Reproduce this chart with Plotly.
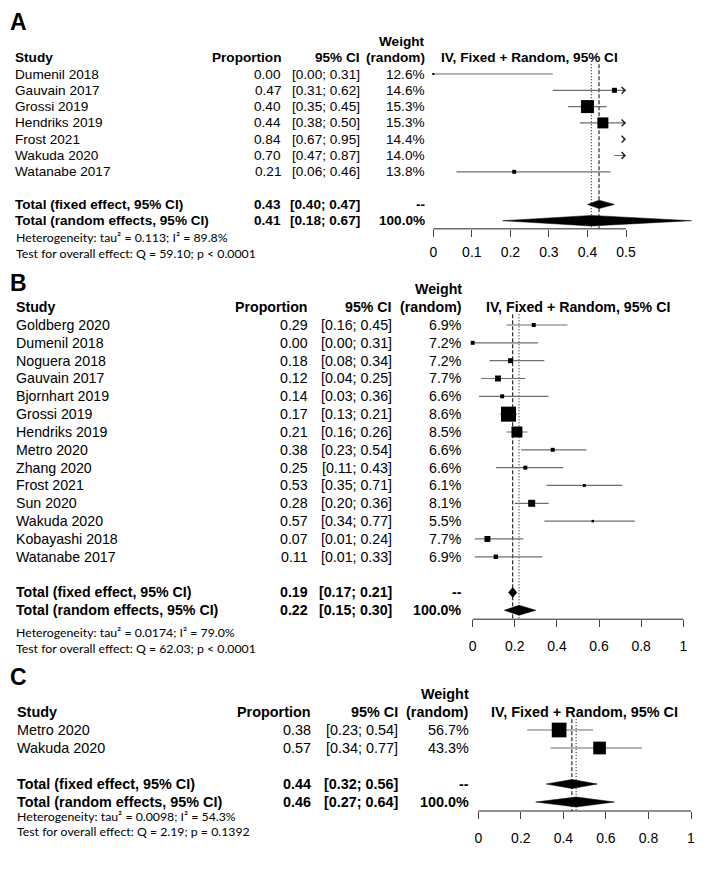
import plotly.graph_objects as go

W, H = 709, 869
FONT = "Liberation Sans, Arial, sans-serif"
NOTE_FONT = "Lato, sans-serif"

# ---------------- data: panel A ----------------
A_study = ["Dumenil 2018", "Gauvain 2017", "Grossi 2019", "Hendriks 2019",
           "Frost 2021", "Wakuda 2020", "Watanabe 2017"]
A_prop = [0.00, 0.47, 0.40, 0.44, 0.84, 0.70, 0.21]
A_lower = [0.00, 0.31, 0.35, 0.38, 0.67, 0.47, 0.06]
A_upper = [0.31, 0.62, 0.45, 0.50, 0.95, 0.87, 0.46]
A_w_random = [12.6, 14.6, 15.3, 15.3, 14.4, 14.0, 13.8]
A_w_fixed = [1.0, 6.4, 43.5, 31.1, 8.0, 6.0, 4.0]
A_fixed = [0.43, 0.40, 0.47]
A_random = [0.41, 0.18, 0.67]
A_total_weight = 100.0
A_notes = ["Heterogeneity: tau² = 0.113; I² = 89.8%",
           "Test for overall effect: Q = 59.10; p < 0.0001"]
A_ticks = [0, 0.1, 0.2, 0.3, 0.4, 0.5]
A_ticklabels = ["0", "0.1", "0.2", "0.3", "0.4", "0.5"]

# ---------------- data: panel B ----------------
B_study = ["Goldberg 2020", "Dumenil 2018", "Noguera 2018", "Gauvain 2017",
           "Bjornhart 2019", "Grossi 2019", "Hendriks 2019", "Metro 2020",
           "Zhang 2020", "Frost 2021", "Sun 2020", "Wakuda 2020",
           "Kobayashi 2018", "Watanabe 2017"]
B_prop = [0.29, 0.00, 0.18, 0.12, 0.14, 0.17, 0.21, 0.38, 0.25, 0.53, 0.28, 0.57, 0.07, 0.11]
B_lower = [0.16, 0.00, 0.08, 0.04, 0.03, 0.13, 0.16, 0.23, 0.11, 0.35, 0.20, 0.34, 0.01, 0.01]
B_upper = [0.45, 0.31, 0.34, 0.25, 0.36, 0.21, 0.26, 0.54, 0.43, 0.71, 0.36, 0.77, 0.24, 0.33]
B_w_random = [6.9, 7.2, 7.2, 7.7, 6.6, 8.6, 8.5, 6.6, 6.6, 6.1, 8.1, 5.5, 7.7, 6.9]
B_w_fixed = [2.6, 2.6, 4.1, 5.9, 2.6, 37.3, 19.9, 2.6, 2.6, 1.5, 8.1, 1.0, 5.9, 3.3]
B_fixed = [0.19, 0.17, 0.21]
B_random = [0.22, 0.15, 0.30]
B_total_weight = 100.0
B_notes = ["Heterogeneity: tau² = 0.0174; I² = 79.0%",
           "Test for overall effect: Q = 62.03; p < 0.0001"]
B_ticks = [0, 0.2, 0.4, 0.6, 0.8, 1]
B_ticklabels = ["0", "0.2", "0.4", "0.6", "0.8", "1"]

# ---------------- data: panel C ----------------
C_study = ["Metro 2020", "Wakuda 2020"]
C_prop = [0.38, 0.57]
C_lower = [0.23, 0.34]
C_upper = [0.54, 0.77]
C_w_random = [56.7, 43.3]
C_w_fixed = [57.3, 42.7]
C_fixed = [0.44, 0.32, 0.56]
C_random = [0.46, 0.27, 0.64]
C_total_weight = 100.0
C_notes = ["Heterogeneity: tau² = 0.0098; I² = 54.3%",
           "Test for overall effect: Q = 2.19; p = 0.1392"]
C_ticks = [0, 0.2, 0.4, 0.6, 0.8, 1]
C_ticklabels = ["0", "0.2", "0.4", "0.6", "0.8", "1"]

PANELS = [
    dict(letter="A", study=A_study, prop=A_prop, lo=A_lower, hi=A_upper,
         wr=A_w_random, wf=A_w_fixed, fixed=A_fixed, random=A_random,
         total=A_total_weight, notes=A_notes, ticks=A_ticks, ticklabels=A_ticklabels),
    dict(letter="B", study=B_study, prop=B_prop, lo=B_lower, hi=B_upper,
         wr=B_w_random, wf=B_w_fixed, fixed=B_fixed, random=B_random,
         total=B_total_weight, notes=B_notes, ticks=B_ticks, ticklabels=B_ticklabels),
    dict(letter="C", study=C_study, prop=C_prop, lo=C_lower, hi=C_upper,
         wr=C_w_random, wf=C_w_fixed, fixed=C_fixed, random=C_random,
         total=C_total_weight, notes=C_notes, ticks=C_ticks, ticklabels=C_ticklabels),
]

# ---------------- layout (pixel geometry) ----------------
GEOM = [
    dict(letter_y=22, row0=74, sp=16.3, x0=433.3, x1=626.0, name_x=13, prop_r=283,
         ci_r=362, w_r=427, note_x=14, note_y=[238, 254], box_max=13, fs=13.6,
         top=30, dfix=4.2, dran=5.3, standoff=3),
    dict(letter_y=283, row0=325, sp=17.83, x0=472.7, x1=683.3, name_x=14, prop_r=310,
         ci_r=394, w_r=464, note_x=14, note_y=[632, 648], box_max=15, fs=14.2,
         top=270, dfix=5, dran=5, standoff=7),
    dict(letter_y=677, row0=730, sp=18.0, x0=478.3, x1=691.0, name_x=15, prop_r=313,
         ci_r=400, w_r=471, note_x=15, note_y=[816, 831], box_max=14.7, fs=14.4,
         top=680, dfix=4.5, dran=5, standoff=7),
]

CI_COLOR = "#6e6e6e"
fig = go.Figure()
annotations = []
shapes = []
layout_axes = {}


def ann(text, x_px, y, yref, anchor, size, bold=False, font=FONT):
    annotations.append(dict(
        text=f"<b>{text}</b>" if bold else text, x=x_px / W, xref="paper",
        y=y, yref=yref, xanchor=anchor, yanchor="middle", showarrow=False,
        font=dict(family=font, size=size, color="black")))


for k, (p, g) in enumerate(zip(PANELS, GEOM), start=1):
    xa = "x" if k == 1 else f"x{k}"
    ya = "y" if k == 1 else f"y{k}"
    n = len(p["study"])
    sp, row0 = g["sp"], g["row0"]
    axis_row = n + 2.5
    bottom_px = row0 + axis_row * sp
    scale = (g["x1"] - g["x0"]) / (p["ticks"][-1] - p["ticks"][0])
    xr = [p["ticks"][0] - g["x0"] / scale, p["ticks"][0] + (W - g["x0"]) / scale]
    yr = [(bottom_px - row0) / sp, (g["top"] - row0) / sp]
    xlim = p["ticks"][-1]
    xmin = p["ticks"][0]

    layout_axes[f"xaxis{'' if k == 1 else k}"] = dict(
        domain=[0, 1], range=xr, anchor=ya, showgrid=False, zeroline=False,
        showline=False, ticks="outside", ticklen=7, tickwidth=1, tickcolor="#444",
        tickvals=p["ticks"], ticktext=p["ticklabels"], ticklabelstandoff=g["standoff"],
        tickfont=dict(family=FONT, size=14, color="black"))
    layout_axes[f"yaxis{'' if k == 1 else k}"] = dict(
        domain=[1 - bottom_px / H, 1 - g["top"] / H], range=yr, anchor=xa,
        visible=False, showgrid=False, zeroline=False)

    # axis line between first and last tick
    shapes.append(dict(type="line", xref=xa, yref=f"{ya} domain",
                       x0=p["ticks"][0], x1=p["ticks"][-1], y0=0, y1=0,
                       line=dict(color="#222", width=1)))

    rows = list(range(n))
    row_fixed, row_random = n + 1, n + 2

    # vertical reference lines (fixed dashed, random dotted)
    fig.add_trace(go.Scatter(x=[p["fixed"][0]] * 2, y=[-0.6, axis_row], mode="lines",
                             line=dict(color="black", width=1, dash="4px,2px"),
                             xaxis=xa, yaxis=ya, hoverinfo="skip"))
    fig.add_trace(go.Scatter(x=[p["random"][0]] * 2, y=[-0.6, axis_row], mode="lines",
                             line=dict(color="black", width=1, dash="1px,2px"),
                             xaxis=xa, yaxis=ya, hoverinfo="skip"))

    # CI lines (clipped to axis limits)
    lx, ly = [], []
    for r, lo, hi in zip(rows, p["lo"], p["hi"]):
        if lo < xlim:
            lx += [max(lo, xmin), min(hi, xlim), None]
            ly += [r, r, None]
        if hi >= xlim:
            annotations.append(dict(x=xlim, y=r, xref=xa, yref=ya, text="",
                                    showarrow=True, ax=-4, ay=0, arrowhead=4,
                                    arrowsize=1.3, arrowwidth=1, arrowcolor="#222"))
    fig.add_trace(go.Scatter(x=lx, y=ly, mode="lines",
                             line=dict(color=CI_COLOR, width=1.2),
                             xaxis=xa, yaxis=ya, hoverinfo="skip"))

    # squares (size from fixed-effect weights)
    wmax = max(p["wf"])
    bx, by, bs = [], [], []
    for r, est, w in zip(rows, p["prop"], p["wf"]):
        if xmin <= est <= xlim:
            bx.append(est)
            by.append(r)
            bs.append(max(g["box_max"] * (w / wmax) ** 0.5, 1.5))
    fig.add_trace(go.Scatter(x=bx, y=by, mode="markers", cliponaxis=False,
                             marker=dict(symbol="square", size=bs, color="black",
                                         opacity=1, line=dict(width=0)),
                             xaxis=xa, yaxis=ya, hoverinfo="skip"))

    # diamonds
    for (est, lo, hi), r, dh in ((p["fixed"], row_fixed, g["dfix"]),
                                 (p["random"], row_random, g["dran"])):
        h = dh / sp
        fig.add_trace(go.Scatter(x=[lo, est, hi, est, lo], y=[r, r - h, r, r + h, r],
                                 mode="lines", fill="toself", fillcolor="black",
                                 line=dict(color="black", width=0.5),
                                 xaxis=xa, yaxis=ya, hoverinfo="skip"))

    fs = g["fs"]
    # panel letter
    annotations.append(dict(text="<b>" + p["letter"] + "</b>", x=8 / W, xref="paper",
                            y=1 - g["letter_y"] / H, yref="paper", xanchor="left",
                            yanchor="middle", showarrow=False,
                            font=dict(family=FONT, size=23, color="black")))
    # headers
    ann("Weight", g["w_r"], -2, ya, "right", fs, True)
    ann("Study", g["name_x"], -1, ya, "left", fs, True)
    ann("Proportion", g["prop_r"], -1, ya, "right", fs, True)
    ann("95% CI", g["ci_r"], -1, ya, "right", fs, True)
    ann("(random)", g["w_r"], -1, ya, "right", fs, True)
    ann("IV, Fixed + Random, 95% CI", (g["x0"] + g["x1"]) / 2, -1, ya, "center", fs, True)

    for r, s, est, lo, hi, w in zip(rows, p["study"], p["prop"], p["lo"], p["hi"], p["wr"]):
        ann(s, g["name_x"], r, ya, "left", fs)
        ann(f"{est:.2f}", g["prop_r"], r, ya, "right", fs)
        ann(f"[{lo:.2f}; {hi:.2f}]", g["ci_r"], r, ya, "right", fs)
        ann(f"{w:.1f}%", g["w_r"], r, ya, "right", fs)

    ann("Total (fixed effect, 95% CI)", g["name_x"], row_fixed, ya, "left", fs, True)
    ann(f"{p['fixed'][0]:.2f}", g["prop_r"], row_fixed, ya, "right", fs, True)
    ann(f"[{p['fixed'][1]:.2f}; {p['fixed'][2]:.2f}]", g["ci_r"], row_fixed, ya, "right", fs, True)
    ann("--", g["w_r"], row_fixed, ya, "right", fs, True)
    ann("Total (random effects, 95% CI)", g["name_x"], row_random, ya, "left", fs, True)
    ann(f"{p['random'][0]:.2f}", g["prop_r"], row_random, ya, "right", fs, True)
    ann(f"[{p['random'][1]:.2f}; {p['random'][2]:.2f}]", g["ci_r"], row_random, ya, "right", fs, True)
    ann(f"{p['total']:.1f}%", g["w_r"], row_random, ya, "right", fs, True)

    for txt, ypx in zip(p["notes"], g["note_y"]):
        annotations.append(dict(text=txt, x=g["note_x"] / W, xref="paper",
                                y=1 - ypx / H, yref="paper", xanchor="left",
                                yanchor="middle", showarrow=False,
                                font=dict(family=NOTE_FONT, size=12.3, color="black")))

fig.update_layout(width=W, height=H, margin=dict(l=0, r=0, t=0, b=0),
                  paper_bgcolor="white", plot_bgcolor="rgba(0,0,0,0)",
                  showlegend=False, annotations=annotations, shapes=shapes,
                  **layout_axes)
fig.write_html("out.html", config={"displayModeBar": False},
               post_script="document.body.style.margin='0';document.body.style.padding='0';")
